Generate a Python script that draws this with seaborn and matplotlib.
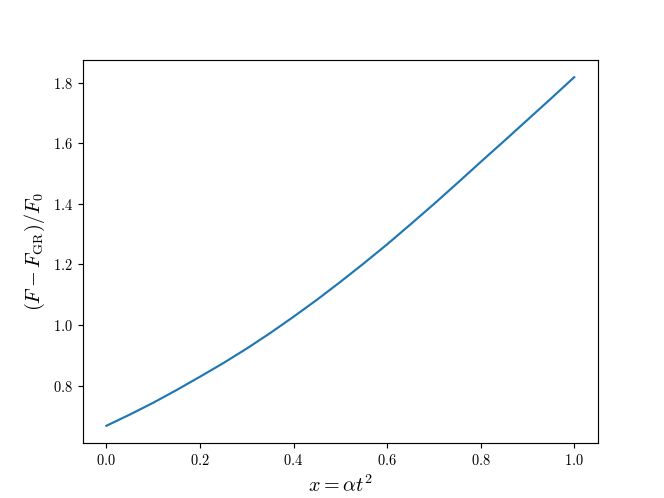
import numpy as np
import pandas as pd
import matplotlib
matplotlib.use("Agg")
import matplotlib.pyplot as plt
import seaborn as sns

# values
x_vals = [0.00, 0.05, 0.10, 0.15, 0.20, 0.25, 0.30, 0.35, 0.40, 0.45, 0.50,
          0.55, 0.60, 0.65, 0.70, 0.75, 0.80, 0.85, 0.90, 0.95, 1.00]
ratio_vals = [0.667, 0.704, 0.743, 0.785, 0.829, 0.874, 0.922, 0.973, 1.027, 1.083, 1.142,
              1.203, 1.266, 1.332, 1.399, 1.468, 1.538, 1.607, 1.677, 1.747, 1.818]

x_label = r'$x = \alpha t^2$'
y_label = r'$(F - F_{\rm GR})/F_0$'


def make_plot():
    # LaTeX look without a TeX install
    plt.rcParams['font.family'] = 'serif'
    plt.rcParams['font.serif'] = ['cmr10', 'DejaVu Serif']
    plt.rcParams['mathtext.fontset'] = 'cm'
    plt.rcParams['axes.formatter.use_mathtext'] = True
    plt.rcParams['axes.unicode_minus'] = False

    df = pd.DataFrame({'x': x_vals, 'ratio': ratio_vals})

    fig, ax = plt.subplots(figsize=(6.4, 4.8), dpi=103.75)
    sns.lineplot(data=df, x='x', y='ratio', ax=ax, color='#1f77b4', linewidth=1.5)

    ax.set_xlabel(x_label, fontsize=14)
    ax.set_ylabel(y_label, fontsize=14)
    ax.tick_params(labelsize=10)

    fig.savefig('out.png', dpi=103.75)
    plt.close(fig)


if __name__ == "__main__":
    make_plot()
